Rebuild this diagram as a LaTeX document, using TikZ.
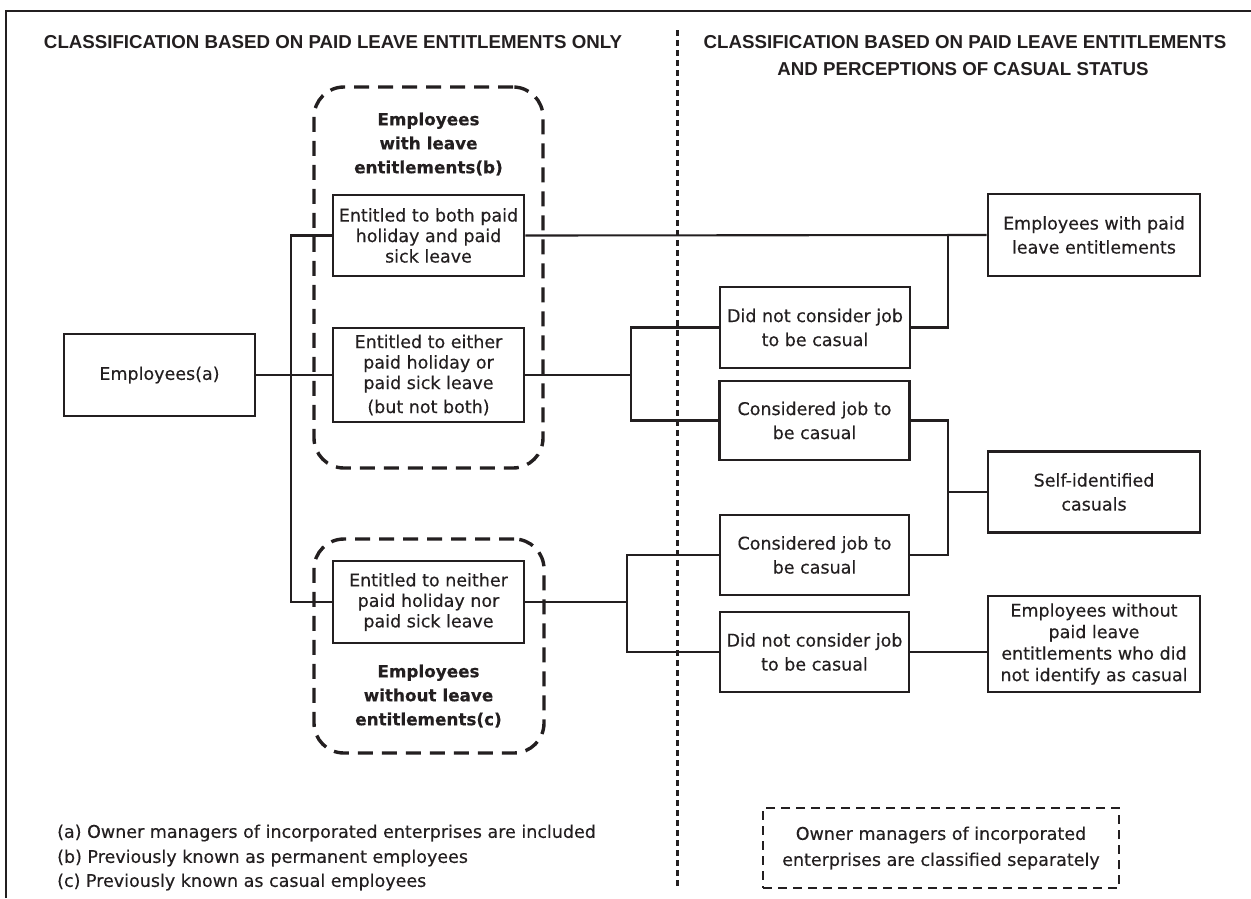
\documentclass[tikz,border=0pt]{standalone}
\usepackage{fontspec}
\setmainfont{DejaVu Sans}[FakeBold=0.35]
\newfontfamily\headfont{Liberation Sans}
\definecolor{ink}{HTML}{231F20}

\begin{document}
\begin{tikzpicture}[x=1pt,y=-1pt,
  every node/.style={text=ink},
  box/.style={draw=ink, line width=2.6pt, align=center, inner sep=0pt,
              font=\fontsize{17.5}{20.5}\selectfont},
  rbox/.style={box, font=\fontsize{17.5}{24}\selectfont},
  link/.style={draw=ink, line width=2.1pt},
  frame/.style={draw=ink, line width=2.6pt},
  group/.style={draw=ink, line width=3.4pt, dash pattern=on 15pt off 9pt,
                rounded corners=30pt, inner sep=0pt},
  grouptitle/.style={align=center, inner sep=0pt,
                     font=\fontsize{16.8}{24}\selectfont\bfseries},
  head/.style={inner sep=0pt, anchor=base,
               font=\fontsize{18.7}{27}\selectfont\headfont\bfseries},
  divider/.style={draw=ink, line width=3pt, dash pattern=on 6pt off 4pt},
  note/.style={inner sep=0pt, anchor=west, font=\fontsize{17.5}{24}\selectfont},
  sepbox/.style={draw=ink, line width=2.2pt, dash pattern=on 9pt off 6pt,
                 align=center, inner sep=0pt, font=\fontsize{17.5}{26}\selectfont}
]
\useasboundingbox (0,0) rectangle (1251,898);

% outer frame (left and top edges)
\coordinate (frameBL) at (6,898);
\coordinate (frameTL) at (6,11);
\coordinate (frameTR) at (1251,11);
\draw[frame] (frameBL) -- (frameTL) -- (frameTR);

% column headings
\node[head] (headL) at (333,48) {CLASSIFICATION BASED ON PAID LEAVE ENTITLEMENTS ONLY};
\node[head] (headR1) at (965,48) {CLASSIFICATION BASED ON PAID LEAVE ENTITLEMENTS};
\node[head] (headR2) at (963,75) {AND PERCEPTIONS OF CASUAL STATUS};

% dotted divider between the two classifications
\coordinate (divTop) at (677,30);
\coordinate (divBot) at (677,888);
\draw[divider] (divTop) -- (divBot);

% dashed groupings
\node[group, minimum width=229pt, minimum height=381pt] (g1) at (428.5,277.5) {};
\node[group, minimum width=230pt, minimum height=214pt] (g2) at (429,646) {};
\node[grouptitle] (g1t) at (428.5,144) {Employees\\with leave\\entitlements(b)};
\node[grouptitle] (g2t) at (428.5,696) {Employees\\without leave\\entitlements(c)};

% left column boxes
\node[box, minimum width=191pt, minimum height=82pt] (emp) at (159.5,375) {Employees(a)};
\node[box, minimum width=191pt, minimum height=81pt] (both) at (428.5,235.5)
  {Entitled to both paid\\holiday and paid\\sick leave};
\node[box, minimum width=191pt, minimum height=94pt] (either) at (428.5,375)
  {Entitled to either\\paid holiday or\\paid sick leave\\[3.5pt](but not both)};
\node[box, minimum width=191pt, minimum height=82pt] (neither) at (428.5,602)
  {Entitled to neither\\paid holiday nor\\paid sick leave};

% perception boxes
\node[rbox, minimum width=190pt, minimum height=81pt] (dnc1) at (815,327.5)
  {Did not consider job\\to be casual};
\node[rbox, minimum width=190pt, minimum height=79pt] (con1) at (814.5,420.5)
  {Considered job to\\be casual};
\node[rbox, minimum width=189pt, minimum height=80pt] (con2) at (814.5,555)
  {Considered job to\\be casual};
\node[rbox, minimum width=189pt, minimum height=80pt] (dnc2) at (814.5,652)
  {Did not consider job\\to be casual};

% outcome boxes
\node[rbox, minimum width=212pt, minimum height=82pt] (paid) at (1094,235)
  {Employees with paid\\leave entitlements};
\node[rbox, minimum width=212pt, minimum height=81pt] (self) at (1094,492)
  {Self-identified\\casuals};
\node[box, minimum width=212pt, minimum height=96pt, font=\fontsize{17.5}{21.5}\selectfont]
  (without) at (1094,644)
  {Employees without\\paid leave\\entitlements who did\\not identify as casual};

% junction points
\coordinate (jA) at (291,375);
\coordinate (jB) at (631,375);
\coordinate (jC) at (627,602);
\coordinate (jD) at (948,235);
\coordinate (jE) at (948,492);

% connectors
\draw[link] (emp.east) -- (either.west);
\draw[link] (both.west) -| (jA) |- (neither.west);
\draw[link] (both.east) -- (paid.west);
\draw[link] (either.east) -- (jB);
\draw[link] (dnc1.west) -| (jB) |- (con1.west);
\draw[link] (dnc1.east) -| (jD);
\draw[link] (neither.east) -- (jC);
\draw[link] (con2.west) -| (jC) |- (dnc2.west);
\draw[link] (con1.east) -| (jE) |- (con2.east);
\draw[link] (jE) -- (self.west);
\draw[link] (dnc2.east) -- (dnc2.east -| without.west);

% separately classified owner managers
\node[sepbox, minimum width=356pt, minimum height=80pt] (owner) at (941,848)
  {Owner managers of incorporated\\enterprises are classified separately};

% footnotes
\node[note] (fa) at (57,833) {(a) Owner managers of incorporated enterprises are included};
\node[note] (fb) at (57,858) {(b) Previously known as permanent employees};
\node[note] (fc) at (57,882) {(c) Previously known as casual employees};
\end{tikzpicture}
\end{document}
